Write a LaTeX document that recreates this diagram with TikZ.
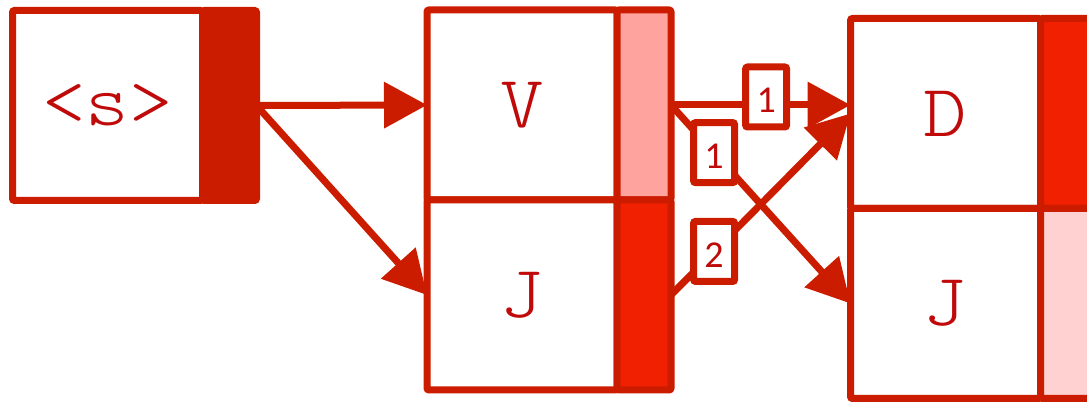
\documentclass[tikz,border=0pt]{standalone}
\usepackage{fontspec}
\newfontfamily\lblfont{Carlito}
\newfontfamily\celfont[FakeStretch=1.12]{lmmonolt10-regular.otf}
\usetikzlibrary{positioning, arrows.meta}
\definecolor{lineRed}{HTML}{CC1C00}
\definecolor{textRed}{HTML}{C00A0A}
\definecolor{barPale}{HTML}{FFA39E}
\definecolor{barBright}{HTML}{F02000}
\definecolor{barPink}{HTML}{FFD1D1}

\begin{document}
\begin{tikzpicture}[x=0.5pt, y=-0.5pt,
  cell/.style={draw=lineRed, line width=3.5pt, fill=white, rounded corners=1pt,
    minimum width=95pt, minimum height=95pt, inner sep=0pt, outer sep=0pt,
    text=textRed, font=\celfont\fontsize{37}{40}\selectfont},
  bar/.style={draw=lineRed, line width=3.5pt, rounded corners=1pt,
    minimum width=27pt, minimum height=95pt, inner sep=0pt, outer sep=0pt},
  arc/.style={draw=lineRed, line width=3.5pt, -{Triangle[length=21.5pt, width=22.5pt]}},
  lbl/.style={draw=lineRed, fill=white, line width=3.5pt, rounded corners=1pt,
    minimum width=20.5pt, minimum height=30pt, inner sep=0pt,
    text height=16pt, text depth=0pt,
    text=textRed, font=\lblfont\fontsize{19}{22}\selectfont}]
  \useasboundingbox (0,0) rectangle (1087,405);
  % start state
  \node[cell] (s) at (107.5,105.5) {<s>};
  \node[bar, fill=lineRed, right=0pt of s] (sbar) {};
  % second column
  \node[cell] (v) at (522,105) {V};
  \node[bar, fill=barPale, right=0pt of v] (vbar) {};
  \node[cell, below=0pt of v] (j) {J};
  \node[bar, fill=barBright, right=0pt of j] (jbar) {};
  % third column
  \node[cell] (d) at (945.5,113.5) {D};
  \node[bar, fill=barBright, right=0pt of d] (dbar) {};
  \node[cell, below=0pt of d] (jj) {J};
  \node[bar, fill=barPink, right=0pt of jj] (jjbar) {};
  % transitions
  \draw[arc] (sbar.east) -- (v.west);
  \draw[arc] (sbar.east) -- (j.west);
  \draw[arc] (vbar.east) -- node[lbl, pos=0.53, yshift=4pt] {1} (vbar.east -| d.west);
  \draw[arc] (vbar.east) -- node[lbl, pos=0.24] {1} (jj.west);
  \draw[arc] (jbar.east) -- node[lbl, pos=0.24] {2} (d.west);
\end{tikzpicture}
\end{document}
